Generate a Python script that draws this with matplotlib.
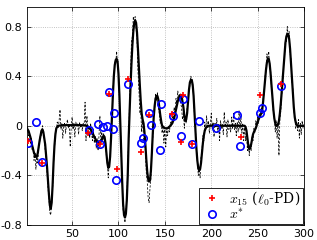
import matplotlib
matplotlib.use("Agg")
import matplotlib.pyplot as plt
import numpy as np

plt.rcParams['axes.unicode_minus'] = False
plt.rcParams['mathtext.fontset'] = 'cm'

# smooth signal (solid black line)
sig_x = [1, 3, 5, 7, 9, 11, 12, 13, 15, 17, 18, 19, 21, 23, 25, 26, 27, 28, 29, 30,
         31, 32, 33, 35, 40, 50, 60, 66, 68, 70, 72, 74, 76, 78, 80, 82, 84, 85, 86, 87,
         88, 89, 90, 91, 92, 93, 94, 95, 96, 97, 98, 99, 100, 101, 102, 103, 104, 105, 106, 107,
         108, 109, 110, 111, 112, 113, 114, 115, 116, 117, 118, 119, 120, 121, 122, 123, 124, 125, 126, 127,
         128, 129, 130, 131, 132, 133, 134, 135, 136, 137, 138, 139, 140, 141, 142, 143, 144, 145, 146, 147,
         150, 153, 156, 158, 160, 162, 164, 166, 167, 168, 170, 171, 172, 173, 174, 175, 176, 177, 178, 179,
         180, 181, 182, 183, 184, 185, 186, 187, 188, 189, 190, 191, 192, 193, 194, 196, 210, 225, 236, 237,
         238, 239, 240, 241, 242, 243, 244, 245, 246, 248, 250, 252, 254, 255, 256, 257, 258, 259, 260, 261,
         262, 263, 264, 265, 266, 267, 268, 269, 270, 271, 272, 273, 274, 275, 276, 277, 278, 279, 280, 281,
         282, 283, 284, 285, 286, 287, 288, 289, 290, 291, 292, 293, 300]
sig_y = [-0.02, -0.04, -0.09, -0.16, -0.22, -0.25, -0.25, -0.22, -0.12, -0.04, -0.03, -0.05, -0.15, -0.33, -0.55, -0.64, -0.67, -0.62, -0.48, -0.3,
         -0.16, -0.07, -0.02, 0.0, 0.005, 0.005, 0.005, 0.0, -0.01, -0.03, -0.06, -0.09, -0.12, -0.14, -0.14, -0.11, -0.08, -0.09, -0.14, -0.22,
         -0.3, -0.34, -0.33, -0.25, -0.1, 0.08, 0.25, 0.4, 0.49, 0.53, 0.54, 0.52, 0.42, 0.25, 0.02, -0.22, -0.45, -0.63, -0.72, -0.74,
         -0.71, -0.6, -0.4, -0.1, 0.12, 0.32, 0.5, 0.65, 0.76, 0.83, 0.85, 0.83, 0.75, 0.62, 0.47, 0.33, 0.2, 0.1, 0.05, 0.02,
         -0.05, -0.15, -0.27, -0.37, -0.43, -0.45, -0.44, -0.36, -0.22, -0.06, 0.07, 0.16, 0.22, 0.24, 0.24, 0.21, 0.15, 0.09, 0.04, 0.0,
         -0.02, -0.02, 0.0, 0.02, 0.06, 0.13, 0.2, 0.24, 0.25, 0.24, 0.15, 0.08, 0.04, 0.05, 0.1, 0.2, 0.29, 0.35, 0.37, 0.37,
         0.33, 0.24, 0.1, -0.05, -0.18, -0.28, -0.34, -0.36, -0.35, -0.3, -0.22, -0.14, -0.08, -0.04, -0.02, 0.0, 0.0, 0.0, 0.0, -0.01,
         -0.04, -0.1, -0.16, -0.19, -0.18, -0.15, -0.11, -0.07, -0.05, -0.02, 0.03, 0.07, 0.1, 0.13, 0.2, 0.28, 0.37, 0.45, 0.51, 0.54,
         0.54, 0.5, 0.42, 0.32, 0.22, 0.13, 0.06, 0.02, 0.0, 0.0, 0.01, 0.04, 0.1, 0.18, 0.28, 0.38, 0.49, 0.59, 0.67, 0.72,
         0.74, 0.74, 0.7, 0.62, 0.5, 0.38, 0.26, 0.15, 0.07, 0.03, 0.01, 0.0, 0.0]

# noisy estimate (dashed black line), one value per sample 1..300
noisy_y = [-0.05, 0.0, -0.08, -0.05, -0.14, -0.1, -0.2, -0.17, -0.28, -0.22,
           -0.35, -0.25, -0.3, -0.18, -0.14, -0.05, -0.08, 0.0, -0.06, -0.1,
           -0.2, -0.26, -0.38, -0.5, -0.58, -0.7, -0.72, -0.6, -0.52, -0.3,
           -0.2, -0.05, -0.04, 0.03, -0.02, 0.04, 0.13, -0.03, 0.02, -0.1,
           0.0, 0.02, -0.06, 0.01, 0.05, -0.02, 0.01, -0.17, -0.02, 0.07,
           -0.03, 0.02, -0.09, 0.03, 0.0, 0.02, -0.07, 0.03, -0.01, 0.01,
           -0.04, 0.02, 0.0, 0.19, -0.12, 0.08, -0.05, -0.02, -0.1, 0.02,
           -0.06, -0.12, -0.03, -0.14, -0.08, -0.18, -0.1, -0.2, -0.08, 0.08,
           -0.15, -0.05, -0.12, -0.06, -0.16, -0.12, -0.25, -0.3, -0.42, -0.3,
           -0.28, -0.05, 0.05, 0.3, 0.38, 0.52, 0.5, 0.6, 0.5, 0.45,
           0.2, 0.05, -0.25, -0.42, -0.68, -0.7, -0.78, -0.68, -0.6, -0.3,
           -0.12, 0.22, 0.4, 0.68, 0.72, 0.88, 0.84, 0.88, 0.78, 0.7,
           0.44, 0.3, 0.1, 0.12, -0.05, 0.08, -0.1, -0.15, -0.2, -0.38,
           -0.45, -0.58, -0.62, -0.5, -0.42, -0.18, -0.1, 0.1, 0.12, 0.26,
           0.2, 0.27, 0.15, 0.1, 0.02, 0.05, -0.06, 0.0, -0.14, -0.03,
           -0.17, -0.02, -0.08, 0.0, -0.05, 0.03, 0.01, 0.08, 0.04, 0.15,
           0.1, 0.22, 0.18, 0.28, 0.2, 0.25, 0.18, 0.15, 0.05, 0.1,
           -0.02, 0.08, 0.02, 0.15, 0.18, 0.3, 0.32, 0.4, 0.36, 0.3,
           0.25, 0.05, -0.02, -0.2, -0.25, -0.4, -0.35, -0.42, -0.25, -0.2,
           -0.08, -0.12, 0.03, -0.04, 0.08, -0.02, 0.04, -0.06, 0.01, 0.1,
           -0.02, 0.03, -0.09, 0.02, -0.01, 0.06, -0.05, 0.01, -0.12, 0.04,
           -0.02, 0.01, -0.07, 0.11, -0.01, 0.03, -0.09, 0.05, -0.03, 0.01,
           -0.05, 0.07, -0.02, 0.1, -0.03, 0.02, -0.08, 0.03, -0.05, 0.12,
           -0.03, 0.08, -0.06, 0.02, -0.12, 0.0, -0.12, -0.05, -0.2, -0.14,
           -0.24, -0.15, -0.2, -0.08, -0.12, -0.02, -0.06, 0.04, 0.0, 0.08,
           0.02, 0.1, 0.06, 0.15, 0.1, 0.22, 0.26, 0.4, 0.44, 0.58,
           0.55, 0.6, 0.46, 0.45, 0.28, 0.25, 0.1, 0.08, -0.05, 0.04,
           -0.1, 0.02, -0.24, 0.06, 0.12, 0.25, 0.32, 0.5, 0.55, 0.7,
           0.68, 0.8, 0.72, 0.76, 0.58, 0.54, 0.35, 0.3, 0.12, 0.08,
           -0.02, 0.03, -0.04, 0.05, -0.1, 0.02, -0.07, 0.04, -0.02, 0.01]
noisy_x = np.arange(1, len(noisy_y) + 1)

# x_15 (l0-PD) spikes
pd_x = [2, 17.5, 67.5, 80, 90, 98, 110, 124, 132.5, 158, 167, 169.5, 179, 232.5, 252.5, 275.5]
pd_y = [-0.12, -0.30, -0.06, -0.145, 0.26, -0.35, 0.38, -0.21, 0.085, 0.095, -0.13, 0.25, -0.148, -0.09, 0.25, 0.335]

# x* spikes
true_x = [2.4, 11.5, 17.4, 68.5, 77.8, 80, 83.7, 87.3, 90, 94.5, 95.2, 97.5, 110, 124.2, 126.2, 132.5,
          135.2, 144.8, 146.2, 159, 167.5, 169.5, 179, 187.3, 204.8, 228, 230.7, 252.2, 254.3, 275]
true_y = [-0.135, 0.027, -0.29, -0.035, 0.013, -0.145, -0.008, 0.0, 0.27, -0.022, 0.10, -0.44, 0.34, -0.14, -0.10, 0.10,
          0.01, -0.195, 0.175, 0.075, -0.08, 0.215, -0.148, 0.04, -0.02, 0.085, -0.16, 0.10, 0.14, 0.32]

fig = plt.figure(figsize=(3.17, 2.40), dpi=100)
ax = fig.add_axes([0.084, 0.0625, 0.875, 0.907])

ax.plot(noisy_x, noisy_y, '--', color='black', linewidth=0.55, dashes=(3, 2))
ax.plot(sig_x, sig_y, '-', color='black', linewidth=1.6)
h_true, = ax.plot(true_x, true_y, 'o', linestyle='none', markerfacecolor='none',
                  markeredgecolor='#0000ff', markeredgewidth=1.2, markersize=5.3, zorder=4)
h_pd, = ax.plot(pd_x, pd_y, '+', linestyle='none', color='#ff0000',
                markeredgewidth=1.2, markersize=4.8, zorder=5)

ax.set_xlim(1, 300)
ax.set_ylim(-0.8, 0.955)
ax.set_xticks([50, 100, 150, 200, 250, 300])
ax.set_yticks([-0.8, -0.4, 0, 0.4, 0.8])
ax.set_yticklabels(['-0.8', '-0.4', '0', '0.4', '0.8'])
ax.tick_params(direction='in', top=True, right=True, labelsize=8, length=3, width=0.5, pad=3)
ax.grid(True, linestyle=':', color='#b0b0b0', linewidth=0.6)
for s in ax.spines.values():
    s.set_linewidth(0.6)

leg = ax.legend([h_pd, h_true], [r'$x_{15}$ ($\ell_0$-PD)', r'$x^{*}$'],
                loc='lower right', prop={'family': 'serif', 'size': 10},
                fancybox=False, framealpha=1, edgecolor='black',
                borderpad=0.15, handletextpad=0.5, labelspacing=0.0,
                handlelength=1.5, borderaxespad=0.1)
leg.get_frame().set_linewidth(0.6)

fig.savefig('out.png', dpi=100)
